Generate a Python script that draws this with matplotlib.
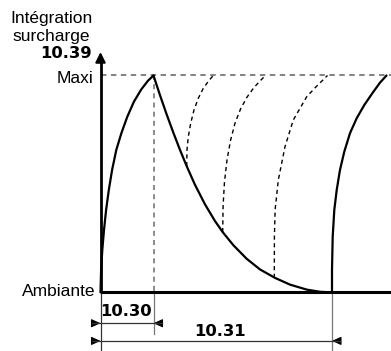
import matplotlib.pyplot as plt
from matplotlib.patches import FancyArrowPatch

# Schematic of overload integration (time t in px from origin, level 0=Ambiante, 1=Maxi)
rise1_t = [0, 0.6, 1.8, 3.5, 5.6, 8.3, 11.6, 15.8, 20.8, 26.8, 33.5, 40.8, 47.5, 53]
rise1_lvl = [0, 0.104, 0.196, 0.288, 0.380, 0.472, 0.565, 0.657, 0.733, 0.810, 0.880, 0.936, 0.976, 1.0]

decay_t = [53, 59.5, 66.2, 72.8, 79.5, 86.2, 94.5, 104.5, 114.5, 122.2, 132.8,
           146.2, 159.5, 174.5, 189.5, 206.2, 219.5, 231.5]
decay_lvl = [1.0, 0.909, 0.820, 0.737, 0.657, 0.582, 0.496, 0.406, 0.329, 0.278, 0.218,
             0.155, 0.106, 0.067, 0.036, 0.013, 0.003, 0.0]

dash1_t = [86.2, 86.5, 87.8, 90.2, 93.5, 97.8, 102.8, 108.8, 112.8]
dash1_lvl = [0.582, 0.657, 0.718, 0.780, 0.841, 0.895, 0.941, 0.979, 1.0]

dash2_t = [122.2, 122.6, 124.0, 126.5, 130.0, 134.5, 140.0, 146.5, 153.5, 160.0, 165.0]
dash2_lvl = [0.278, 0.40, 0.51, 0.61, 0.70, 0.78, 0.845, 0.90, 0.945, 0.977, 1.0]

dash3_t = [173.8, 173.9, 174.6, 177.8, 184.5, 192.8, 206.2, 216, 227]
dash3_lvl = [0.067, 0.257, 0.380, 0.518, 0.672, 0.795, 0.902, 0.950, 1.0]

rise2_t = [231.5, 231.5, 232.2, 233.8, 236.2, 239.5, 243.8, 249.5, 256.2, 263.8, 271.8, 279.5, 286]
rise2_lvl = [0, 0.104, 0.257, 0.380, 0.472, 0.565, 0.649, 0.734, 0.803, 0.864, 0.918, 0.967, 1.0]

t_peak = 53        # 10.30
t_restart = 231.5  # 10.31

fig = plt.figure(figsize=(3.91, 3.51), dpi=100)
ax = fig.add_axes([0, 0, 1, 1])
ax.set_xlim(-100.5, 290.5)
ax.set_ylim(-0.27, 1.348)
ax.axis("off")

grey = "#777777"

# reference lines
ax.plot([0, 290.5], [1, 1], color=grey, lw=1.3, dashes=(3, 2.5))
ax.plot([t_peak, t_peak], [1, 0], color=grey, lw=1.2, dashes=(3, 2.5))
ax.plot([t_peak, t_peak], [0, -0.191], color=grey, lw=0.9)
ax.plot([0, 0], [0, -0.27], color="#333333", lw=0.9)
ax.plot([t_restart, t_restart], [0, -0.27], color=grey, lw=0.9)

# axes
ax.plot([0, 290.5], [0, 0], color="black", lw=2.2, solid_capstyle="butt")
ax.plot([0, 0], [0, 1.08], color="black", lw=2.0, solid_capstyle="butt")
ax.add_patch(FancyArrowPatch((0, 1.06), (0, 1.108),
                             arrowstyle="-|>,head_length=0.6,head_width=0.3",
                             mutation_scale=10, lw=1.5, color="black",
                             shrinkA=0, shrinkB=0))

# curves
curve = dict(color="black", lw=1.6, solid_joinstyle="round", solid_capstyle="round")
ax.plot(rise1_t, rise1_lvl, **curve)
ax.plot(decay_t, decay_lvl, **curve)
ax.plot(rise2_t, rise2_lvl, **curve)
for tt, ll in [(dash1_t, dash1_lvl), (dash2_t, dash2_lvl), (dash3_t, dash3_lvl)]:
    ax.plot(tt, ll, color="black", lw=1.0, dashes=(3, 2.5))


# dimension lines
def dim(y, t0, t1):
    ax.plot([t0 - 9, t1 + 8], [y, y], color="#333333", lw=0.9)
    for tip, tail in [(t0, t0 - 9), (t1, t1 + 8)]:
        ax.add_patch(FancyArrowPatch((tail, y), (tip, y),
                                     arrowstyle="-|>,head_length=0.55,head_width=0.25",
                                     mutation_scale=10, lw=0.8, color="black",
                                     shrinkA=0, shrinkB=0))


dim(-0.142, 0, t_peak)
dim(-0.2235, 0, t_restart)

reg = dict(family="Liberation Sans", fontsize=12.5)
bold = dict(family="DejaVu Sans", fontsize=11.8, fontweight="bold")
ax.text(-49, 1.243, "Intégration", ha="center", va="baseline", **reg)
ax.text(-49, 1.160, "surcharge", ha="center", va="baseline", **reg)
ax.text(-8.5, 1.082, "10.39", ha="right", va="baseline", **bold)
ax.text(-7.5, 0.967, "Maxi", ha="right", va="baseline", **reg)
ax.text(-5.5, -0.016, "Ambiante", ha="right", va="baseline", **reg)
ax.text(-0.5, -0.108, "10.30", ha="left", va="baseline", **bold)
ax.text(119.8, -0.199, "10.31", ha="center", va="baseline", **bold)

fig.savefig("out.png", dpi=100)
